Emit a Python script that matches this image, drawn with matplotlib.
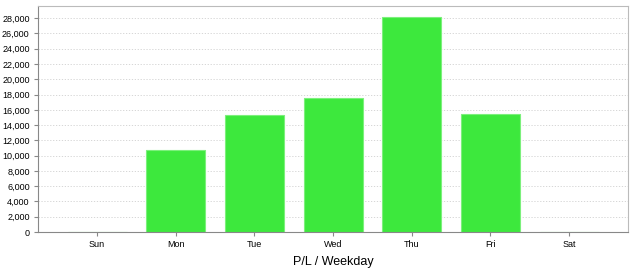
import matplotlib
matplotlib.use('Agg')
import matplotlib.pyplot as plt
from matplotlib.ticker import FuncFormatter, MultipleLocator

# P/L per weekday
days = ['Sun', 'Mon', 'Tue', 'Wed', 'Thu', 'Fri', 'Sat']
pnl = [0, 10750, 15350, 17580, 28200, 15480, 0]

plt.rcParams['font.family'] = ['Liberation Sans', 'DejaVu Sans']

fig = plt.figure(figsize=(6.36, 2.76), dpi=100)
ax = fig.add_axes([38 / 636, 44 / 276, 590 / 636, 226 / 276])

x = range(len(days))
ax.bar(x, pnl, width=0.75, color='#3de83d', edgecolor='#7cf07c', linewidth=0.8, zorder=2)

ax.set_xlim(-0.75, 6.75)
ax.set_ylim(0, 29600)
ax.set_xticks(list(x))
ax.set_xticklabels(days)
ax.yaxis.set_major_locator(MultipleLocator(2000))
ax.yaxis.set_major_formatter(FuncFormatter(lambda v, p: f'{int(v):,}'))
ax.tick_params(labelsize=6.5, length=3, color='#888888', pad=3)

ax.grid(axis='y', color='#d0d0d0', linestyle=(0, (1.5, 2)), linewidth=0.6, zorder=0)
for s in ['left', 'bottom']:
    ax.spines[s].set_color('#888888')
for s in ['top', 'right']:
    ax.spines[s].set_color('#bbbbbb')

fig.text(333 / 636, 0.04, 'P/L / Weekday', ha='center', fontsize=9)

plt.savefig('out.png', dpi=100)
